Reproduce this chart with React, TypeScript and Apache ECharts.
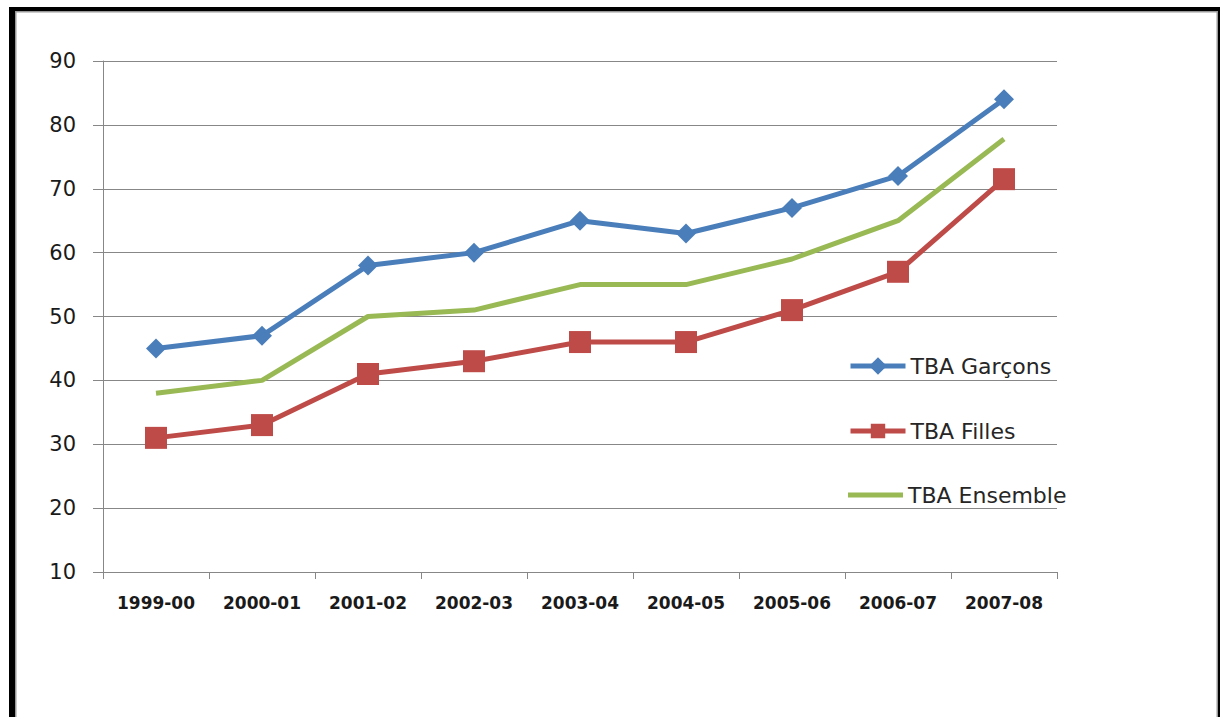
import React, { useEffect, useRef } from "react";
import * as echarts from "echarts";

const categories = ["1999-00", "2000-01", "2001-02", "2002-03", "2003-04", "2004-05", "2005-06", "2006-07", "2007-08"];
const garcons = [45, 47, 58, 60, 65, 63, 67, 72, 84];
const filles = [31, 33, 41, 43, 46, 46, 51, 57, 71.5];
const ensemble = [38, 40, 50, 51, 55, 55, 59, 65, 77.8];
const seriesNames = ["TBA Garçons", "TBA Filles", "TBA Ensemble"];
const yMin = 10;
const yMax = 90;
const yStep = 10;

export default function App() {
  const ref = useRef<HTMLDivElement>(null);
  useEffect(() => {
    if (!ref.current) return;
    const chart = echarts.init(ref.current, null, { renderer: "svg" });
    const grid = "#878787";
    const legendText = { fontFamily: "DejaVu Sans", fontSize: 22, color: "#262626" };
    chart.setOption({
      animation: false,
      backgroundColor: "#ffffff",
      grid: { left: 103, right: 165, top: 61, bottom: 145, containLabel: false },
      xAxis: {
        type: "category",
        data: categories,
        boundaryGap: true,
        axisLine: { lineStyle: { color: grid, width: 1 } },
        axisTick: { show: true, length: 7, alignWithLabel: false, lineStyle: { color: grid } },
        axisLabel: {
          margin: 22,
          fontFamily: "DejaVu Sans",
          fontWeight: "bold",
          fontSize: 17,
          color: "#1a1a1a",
        },
        splitLine: { show: false },
      },
      yAxis: {
        type: "value",
        min: yMin,
        max: yMax,
        interval: yStep,
        axisLine: { show: true, lineStyle: { color: grid, width: 1 } },
        axisTick: { show: true, length: 10, lineStyle: { color: grid } },
        axisLabel: { margin: 27, fontFamily: "DejaVu Sans", fontSize: 21, color: "#1a1a1a" },
        splitLine: { show: true, lineStyle: { color: grid, width: 1 } },
      },
      legend: [
        { data: [seriesNames[0]], orient: "vertical", left: 848, top: 355, itemWidth: 55, itemHeight: 22, itemGap: 0, textStyle: legendText, padding: 0, lineStyle: { width: 5 } },
        { data: [seriesNames[1]], orient: "vertical", left: 848, top: 420, itemWidth: 55, itemHeight: 18, itemGap: 0, textStyle: legendText, padding: 0, lineStyle: { width: 5 } },
        { data: [seriesNames[2]], orient: "vertical", left: 848, top: 484, itemWidth: 55, itemHeight: 5, itemGap: 0, icon: "rect", textStyle: legendText, padding: 0 },
      ],
      series: [
        {
          name: seriesNames[0],
          type: "line",
          data: garcons,
          color: "#4A7EBB",
          symbol: "diamond",
          symbolSize: 20,
          lineStyle: { width: 5, color: "#4A7EBB" },
          itemStyle: { color: "#4A7EBB" },
          z: 3,
        },
        {
          name: seriesNames[1],
          type: "line",
          data: filles,
          color: "#BE4B48",
          symbol: "rect",
          symbolSize: 22,
          lineStyle: { width: 5, color: "#BE4B48" },
          itemStyle: { color: "#BE4B48" },
          z: 3,
        },
        {
          name: seriesNames[2],
          type: "line",
          data: ensemble,
          color: "#98B954",
          symbol: "none",
          lineStyle: { width: 5, color: "#98B954" },
          itemStyle: { color: "#98B954" },
          z: 2,
        },
      ],
      graphic: [
        { type: "rect", shape: { x: 9, y: 7, width: 6, height: 720 }, style: { fill: "#000" }, silent: true },
        { type: "rect", shape: { x: 9, y: 7, width: 1211, height: 4 }, style: { fill: "#000" }, silent: true },
        { type: "rect", shape: { x: 1218, y: 7, width: 2, height: 720 }, style: { fill: "#000" }, silent: true },
        { type: "rect", shape: { x: 15, y: 11, width: 1.5, height: 720 }, style: { fill: "#999" }, silent: true },
        { type: "rect", shape: { x: 15, y: 11, width: 1203, height: 1.5 }, style: { fill: "#999" }, silent: true },
        { type: "rect", shape: { x: 1216.5, y: 11, width: 1.5, height: 720 }, style: { fill: "#999" }, silent: true },
      ],
    });
    return () => chart.dispose();
  }, []);
  return <div ref={ref} style={{ position: "fixed", left: 0, top: 0, width: 1222, height: 717 }} />;
}
